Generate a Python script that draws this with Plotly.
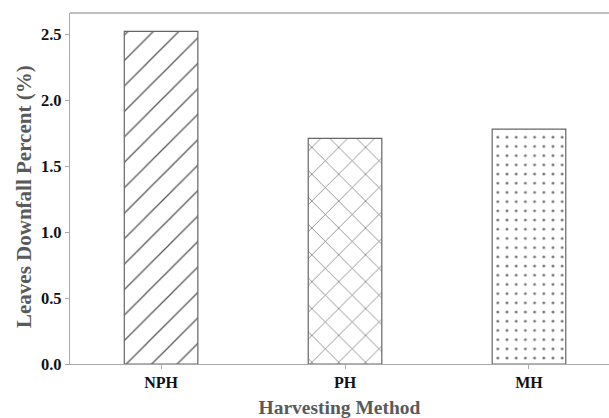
import plotly.graph_objects as go

categories = ["NPH", "PH", "MH"]
values = [2.52, 1.71, 1.78]
y_ticks = [0.0, 0.5, 1.0, 1.5, 2.0, 2.5]
y_tick_labels = ["0.0", "0.5", "1.0", "1.5", "2.0", "2.5"]

shapes = ["/", "x", "."]
sizes = [18, 19, 9.2]
solid = [0.07, 0.07, 0.08]
fgcols = ["#555555", "#666666", "#777777"]

fig = go.Figure()
for c, v, s, sz, so, fg in zip(categories, values, shapes, sizes, solid, fgcols):
    fig.add_trace(go.Bar(
        x=[c], y=[v], width=0.4,
        marker=dict(color="white", line=dict(color="#666666", width=1.2),
                    pattern=dict(shape=s, size=sz, solidity=so, fgcolor=fg,
                                 bgcolor="white", fillmode="replace")),
        showlegend=False,
    ))

font_serif = "Liberation Serif"
fig.update_layout(
    width=609, height=418,
    margin=dict(l=70, r=0, t=13, b=54),
    plot_bgcolor="white", paper_bgcolor="white",
    font=dict(family=font_serif),
    xaxis=dict(
        range=[-0.495, 2.435],
        showline=True, linecolor="#aaaaaa", linewidth=1.3,
        ticks="outside", ticklen=4, tickcolor="#aaaaaa",
        tickfont=dict(family=font_serif, size=16, color="#111111", weight="bold"),
        title=dict(text="<b>Harvesting Method</b>", font=dict(family=font_serif, size=19.5, color="#5a5a5a"), standoff=14),
        showgrid=False, zeroline=False,
    ),
    yaxis=dict(
        range=[0, 2.66],
        tickvals=y_ticks, ticktext=y_tick_labels,
        showline=True, linecolor="#aaaaaa", linewidth=1.3,
        ticks="outside", ticklen=4, tickcolor="#aaaaaa",
        tickfont=dict(family=font_serif, size=16.5, color="#111111", weight="bold"),
        showgrid=False, zeroline=False,
    ),
    annotations=[dict(text="<b>Leaves Downfall Percent (%)</b>", textangle=-90,
                      xref="paper", yref="paper", x=(24 - 70) / 539, y=(364 - 197) / 351,
                      xanchor="center", yanchor="middle", showarrow=False,
                      font=dict(family=font_serif, size=21, color="#5a5a5a"))],
    shapes=[dict(type="line", xref="paper", yref="paper", x0=0, x1=1, y0=1, y1=1,
                 line=dict(color="#aaaaaa", width=1.3))],
)

fig.write_html("out.html")
